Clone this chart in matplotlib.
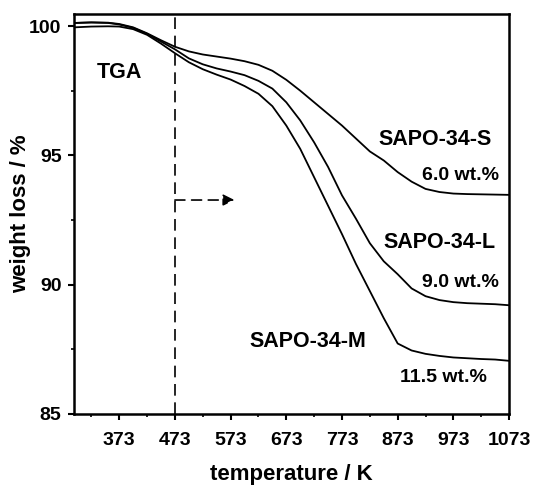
import matplotlib
matplotlib.use('Agg')
import matplotlib.pyplot as plt
from matplotlib.ticker import FixedLocator

plt.rcParams['font.family'] = ['Liberation Sans', 'DejaVu Sans']
plt.rcParams['font.weight'] = 'bold'

temps = [293, 323, 353, 373, 398, 423, 448, 473, 498, 523, 548, 573, 598,
         623, 648, 673, 698, 723, 748, 773, 798, 823, 848, 873, 898, 923,
         948, 973, 998, 1023, 1048, 1073]

sapo_s = [100.12, 100.14, 100.13, 100.08, 99.95, 99.72, 99.45, 99.20, 99.02,
          98.90, 98.82, 98.74, 98.64, 98.50, 98.27, 97.92, 97.50, 97.05,
          96.60, 96.15, 95.65, 95.15, 94.80, 94.35, 93.98, 93.70, 93.58,
          93.52, 93.50, 93.49, 93.48, 93.47]

sapo_l = [100.12, 100.14, 100.12, 100.06, 99.93, 99.70, 99.40, 99.10, 98.75,
          98.52, 98.36, 98.24, 98.10, 97.88, 97.58, 97.05, 96.35, 95.50,
          94.55, 93.45, 92.55, 91.60, 90.90, 90.40, 89.85, 89.55, 89.40,
          89.32, 89.28, 89.26, 89.24, 89.20]

sapo_m = [99.95, 99.98, 99.99, 99.98, 99.88, 99.66, 99.32, 98.95, 98.60,
          98.33, 98.12, 97.93, 97.68, 97.38, 96.90, 96.15, 95.25, 94.15,
          93.05, 91.95, 90.80, 89.75, 88.70, 87.72, 87.45, 87.32, 87.24,
          87.18, 87.15, 87.12, 87.10, 87.05]

x_ticks = [373, 473, 573, 673, 773, 873, 973, 1073]
x_minor = [323, 423, 523, 623, 723, 823, 923, 1023]
y_ticks = [85, 90, 95, 100]
y_minor = [87.5, 92.5, 97.5]

labels = [('TGA', 373, 98.2, 15.5),
          ('SAPO-34-S', 940, 95.6, 15.5),
          ('6.0 wt.%', 986, 94.22, 14),
          ('SAPO-34-L', 948, 91.63, 15.5),
          ('9.0 wt.%', 986, 90.08, 14),
          ('SAPO-34-M', 712, 87.8, 15.5),
          ('11.5 wt.%', 956, 86.4, 14)]

fig = plt.figure(figsize=(5.37, 4.88), dpi=100)
ax = fig.add_axes([0.138, 0.152, 0.810, 0.819])

for series in (sapo_s, sapo_l, sapo_m):
  ax.plot(temps, series, color='black', linewidth=1.3)

# start of the weight-loss window
ax.axvline(473, color='black', linewidth=1.2, linestyle=(0, (7, 4)))
ax.annotate('', xy=(580, 93.27), xytext=(473, 93.27),
            arrowprops=dict(arrowstyle='-|>', color='black', lw=1.2,
                            linestyle=(0, (6, 4)), mutation_scale=17,
                            shrinkA=0, shrinkB=0))

for text, xx, yy, size in labels:
  ax.text(xx, yy, text, ha='center', va='center', fontsize=size,
          fontweight='bold')

ax.set_xlim(292, 1073)
ax.set_ylim(85, 100.46)
ax.xaxis.set_major_locator(FixedLocator(x_ticks))
ax.xaxis.set_minor_locator(FixedLocator(x_minor))
ax.yaxis.set_major_locator(FixedLocator(y_ticks))
ax.yaxis.set_minor_locator(FixedLocator(y_minor))

ax.tick_params(which='major', direction='out', length=4, width=1.5,
               labelsize=14)
ax.tick_params(axis='x', which='major', pad=9)
ax.tick_params(axis='y', which='major', pad=5)
ax.tick_params(which='minor', direction='out', length=2.5, width=1.2)
for spine in ax.spines.values():
  spine.set_linewidth(1.8)

ax.set_xlabel('temperature / K', fontsize=16, fontweight='bold', labelpad=11)
ax.set_ylabel('weight loss / %', fontsize=16, fontweight='bold', labelpad=-1)

plt.savefig('out.png', dpi=100)
